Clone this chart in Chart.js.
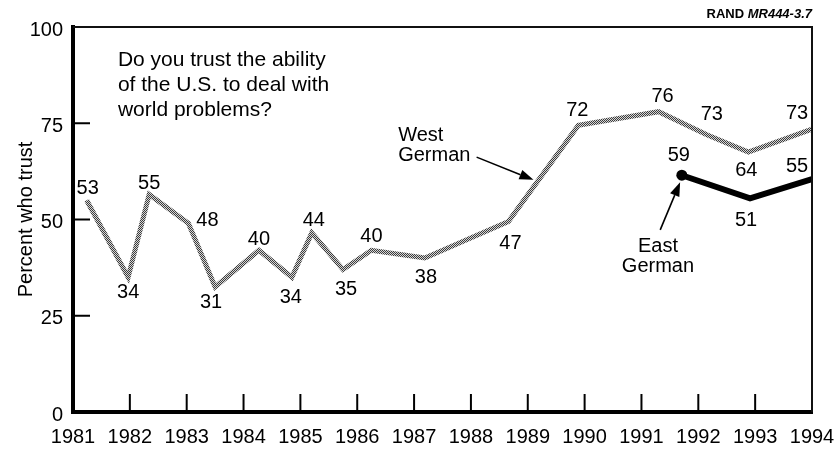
<!DOCTYPE html>
<html>
<head>
<meta charset="utf-8">
<script src="https://cdn.jsdelivr.net/npm/chart.js@4.4.1/dist/chart.umd.min.js"></script>
<style>
  html, body { margin: 0; padding: 0; background: #fff; }
  #wrap { width: 835px; height: 449px; }
</style>
</head>
<body>
<div id="wrap"><canvas id="myChart" width="835" height="449"></canvas></div>
<script>
// survey points
const westYears = [1981.24, 1981.97, 1982.34, 1983.03, 1983.5, 1984.27, 1984.85, 1985.2, 1985.75, 1986.25, 1987.19, 1988.66, 1989.89, 1991.3, 1992.15, 1992.88, 1994];
const westValues = [55, 35, 56.5, 49, 32.5, 42, 35, 46.5, 37, 42, 40, 49.5, 74.5, 78, 72, 67.5, 73.5];
const westLabels = ["53", "34", "55", "48", "31", "40", "34", "44", "35", "40", "38", "47", "72", "76", "73", "64", "73"];

const eastYears = [1991.71, 1992.91, 1994];
const eastValues = [61.5, 55.5, 60.5];
const eastLabels = ["59", "51", "55"];

const yTicks = [0, 25, 50, 75, 100];
const yInnerTicks = [25, 50, 75];
const xInnerTicks = [1982, 1983, 1984, 1985, 1986, 1987, 1988, 1989, 1990, 1991, 1992, 1993];

const FONT = '"Liberation Sans", Arial, Helvetica, sans-serif';

// label offsets from their point (pixels)
const westOffsets = [[1, -12], [0, 15], [0, -11], [19, -3], [-4, 16], [0, -11], [-1, 20], [2, -12], [3, 20], [0, -14], [1, 19], [2, 22], [-1, -15], [4, -15], [5, -20], [-2, 18], [-15, -16]];
const eastOffsets = [[-3, -20], [-4, 22], [-15, -13]];

// dithered grey for the West German line
const makePattern = () => {
    const c = document.createElement("canvas");
    c.width = 2;
    c.height = 2;
    const g = c.getContext("2d");
    g.fillStyle = "#d6d6d6";
    g.fillRect(0, 0, 2, 2);
    g.fillStyle = "#3c3c3c";
    g.fillRect(0, 0, 1, 1);
    g.fillRect(1, 1, 1, 1);
    return g.createPattern(c, "repeat");
};

const arrow = (ctx, x1, y1, x2, y2) => {
    const a = Math.atan2(y2 - y1, x2 - x1);
    const len = 14, hw = 5;
    const bx = x2 - len * Math.cos(a), by = y2 - len * Math.sin(a);
    ctx.beginPath();
    ctx.moveTo(x1, y1);
    ctx.lineTo(bx, by);
    ctx.lineWidth = 1.6;
    ctx.strokeStyle = "#000";
    ctx.stroke();
    ctx.beginPath();
    ctx.moveTo(x2, y2);
    ctx.lineTo(bx + hw * Math.sin(a), by - hw * Math.cos(a));
    ctx.lineTo(bx - hw * Math.sin(a), by + hw * Math.cos(a));
    ctx.closePath();
    ctx.fillStyle = "#000";
    ctx.fill();
};

const decorations = {
    id: "decorations",
    afterDatasetsDraw(chart) {
        const ctx = chart.ctx;
        const xs = chart.scales.x, ys = chart.scales.y;
        const area = chart.chartArea;
        const px = (x, y) => [xs.getPixelForValue(x), ys.getPixelForValue(y)];

        ctx.save();

        // top and right frame
        ctx.strokeStyle = "#111";
        ctx.lineWidth = 2;
        ctx.beginPath();
        ctx.moveTo(area.left, area.top);
        ctx.lineTo(area.right, area.top);
        ctx.lineTo(area.right, area.bottom);
        ctx.stroke();

        // inner tick marks
        ctx.lineWidth = 2;
        ctx.strokeStyle = "#000";
        yInnerTicks.forEach(v => {
            const y = ys.getPixelForValue(v);
            ctx.beginPath();
            ctx.moveTo(area.left, y);
            ctx.lineTo(area.left + 17, y);
            ctx.stroke();
        });
        xInnerTicks.forEach(v => {
            const x = xs.getPixelForValue(v);
            ctx.beginPath();
            ctx.moveTo(x, area.bottom);
            ctx.lineTo(x, area.bottom - 18);
            ctx.stroke();
        });

        // value labels
        ctx.fillStyle = "#000";
        ctx.font = "20px " + FONT;
        ctx.textAlign = "center";
        ctx.textBaseline = "middle";
        const west = chart.getDatasetMeta(1).data;
        west.forEach((p, i) => {
            ctx.fillText(westLabels[i], p.x + westOffsets[i][0], p.y + westOffsets[i][1]);
        });
        const east = chart.getDatasetMeta(0).data;
        east.forEach((p, i) => {
            ctx.fillText(eastLabels[i], p.x + eastOffsets[i][0], p.y + eastOffsets[i][1]);
        });

        // question
        ctx.textAlign = "left";
        ctx.textBaseline = "alphabetic";
        ctx.font = "21px " + FONT;
        let [qx, qy] = px(1981.79, 89.9);
        ctx.fillText("Do you trust the ability", qx, qy);
        ctx.fillText("of the U.S. to deal with", qx, qy + 25);
        ctx.fillText("world problems?", qx, qy + 50);

        // series names and arrows
        ctx.font = "20px " + FONT;
        let [wx, wy] = px(1986.72, 70.4);
        ctx.fillText("West", wx, wy);
        ctx.fillText("German", wx, wy + 20);
        let [a1x, a1y] = px(1988.1, 66.2);
        let [a2x, a2y] = px(1989.1, 60.3);
        arrow(ctx, a1x, a1y, a2x, a2y);

        ctx.textAlign = "center";
        let [ex, ey] = px(1991.29, 41.6);
        ctx.fillText("East", ex, ey);
        ctx.fillText("German", ex, ey + 20);
        let [b1x, b1y] = px(1991.33, 47.3);
        let [b2x, b2y] = px(1991.68, 59.7);
        arrow(ctx, b1x, b1y, b2x, b2y);

        // source tag
        ctx.textAlign = "right";
        ctx.font = "italic bold 13px " + FONT;
        const tag = "MR444-3.7";
        const tw = ctx.measureText(tag).width;
        ctx.fillText(tag, area.right, 18);
        ctx.font = "bold 13px " + FONT;
        ctx.fillText("RAND ", area.right - tw, 18);

        ctx.restore();
    }
};

const ctx = document.getElementById("myChart").getContext("2d");

const config = {
    type: "line",
    data: {
        datasets: [{
            label: "East German",
            data: eastYears.map((x, i) => ({ x: x, y: eastValues[i] })),
            borderColor: "#000",
            backgroundColor: "#000",
            borderWidth: 6,
            pointRadius: c => (c.dataIndex === 0 ? 5.5 : 0),
            pointBorderWidth: 0,
            tension: 0,
            fill: false,
        }, {
            label: "West German",
            data: westYears.map((x, i) => ({ x: x, y: westValues[i] })),
            borderColor: makePattern(),
            borderWidth: 5,
            pointRadius: 0,
            tension: 0,
            fill: false,
        }],
    },
    options: {
        responsive: false,
        animation: false,
        layout: { padding: { top: 27, right: 23, left: 0, bottom: 0 } },
        plugins: {
            legend: { display: false },
            tooltip: { enabled: false },
        },
        scales: {
            x: {
                type: "linear",
                min: 1981,
                max: 1994,
                grid: { display: false, drawTicks: false },
                border: { display: true, color: "#000", width: 4 },
                ticks: {
                    stepSize: 1,
                    padding: 13,
                    color: "#000",
                    maxRotation: 0,
                    autoSkip: false,
                    font: { size: 20, family: FONT },
                    callback: v => String(v),
                },
                afterFit: s => {
                    s.height = 37;
                    s.paddingLeft = 0;
                    s.paddingRight = 0;
                },
            },
            y: {
                min: 0,
                max: 100,
                afterBuildTicks: s => { s.ticks = yTicks.map(v => ({ value: v })); },
                grid: { display: false, drawTicks: false },
                border: { display: true, color: "#000", width: 4 },
                ticks: {
                    padding: 10,
                    labelOffset: 3,
                    color: "#000",
                    font: { size: 20, family: FONT },
                },
                title: {
                    display: true,
                    text: "Percent who trust",
                    color: "#000",
                    font: { size: 20, family: FONT },
                    padding: { top: 14, bottom: 0 },
                },
                afterFit: s => {
                    s.width = 73;
                    s.paddingTop = 0;
                    s.paddingBottom = 0;
                },
            },
        },
    },
    plugins: [decorations],
};

const myChart = new Chart(ctx, config);
</script>
</body>
</html>
